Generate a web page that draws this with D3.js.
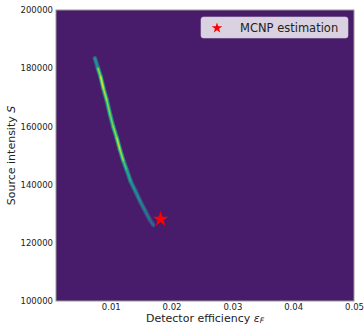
<!DOCTYPE html>
<html>
<head>
<meta charset="utf-8">
<script src="https://cdn.jsdelivr.net/npm/d3@7"></script>
<style>
  body { margin: 0; background: #fff; }
  text { font-family: "DejaVu Sans", sans-serif; fill: #222; }
</style>
</head>
<body>
<svg id="chart" width="364" height="325"></svg>
<script>
// ridge of the posterior (centre line + relative density)
const ridgeS   = [183400, 180000, 177000, 173000, 169000, 164000, 160000, 156000, 152000, 148000, 145000, 141000, 138000, 134000, 131000, 128000, 126100];
const ridgeEps = [0.0074, 0.0079, 0.00835, 0.0088, 0.00935, 0.0099, 0.0104, 0.0110, 0.01152, 0.0121, 0.01263, 0.0133, 0.0140, 0.0149, 0.01565, 0.0164, 0.0170];
const ridgeVal = [0.35, 0.7, 1.0, 0.95, 0.85, 0.8, 0.8, 0.9, 0.95, 0.8, 0.65, 0.55, 0.5, 0.45, 0.4, 0.35, 0.3];

const mcnp = { eps: 0.0182, s: 128100 };

const xTicks = [0.01, 0.02, 0.03, 0.04, 0.05];
const yTicks = [100000, 120000, 140000, 160000, 180000, 200000];

const svg = d3.select("#chart");
const margin = { top: 10, right: 10, bottom: 24, left: 56 };
const width = +svg.attr("width") - margin.left - margin.right;
const height = +svg.attr("height") - margin.top - margin.bottom;

const g = svg.append("g").attr("transform", `translate(${margin.left},${margin.top})`);

const x = d3.scaleLinear().domain([0.001, 0.05]).range([0, width]);
const y = d3.scaleLinear().domain([100000, 200000]).range([height, 0]);

// background of the density map
const bg = "#481b6b";
g.append("rect")
  .attr("width", width)
  .attr("height", height)
  .attr("fill", bg);

const defs = svg.append("defs");
defs.append("clipPath").attr("id", "clip")
  .append("rect").attr("width", width).attr("height", height);
defs.append("filter").attr("id", "soft")
  .attr("x", "-20%").attr("y", "-20%").attr("width", "140%").attr("height", "140%")
  .append("feGaussianBlur").attr("stdDeviation", 0.6);

const pts = ridgeS.map((s, i) => ({ s, eps: ridgeEps[i], v: ridgeVal[i] }));
const segs = d3.pairs(pts);

const ridge = g.append("g").attr("clip-path", "url(#clip)").attr("filter", "url(#soft)");

// layered strokes: wide and dim outside, narrow and bright in the middle
const layers = [
  { w: 4.6, k: 0.4 },
  { w: 3.2, k: 0.65 },
  { w: 2.0, k: 0.85 },
  { w: 1.0, k: 1.0 }
];
layers.forEach(l => {
  ridge.selectAll(null)
    .data(segs)
    .enter().append("line")
    .attr("x1", d => x(d[0].eps))
    .attr("y1", d => y(d[0].s))
    .attr("x2", d => x(d[1].eps))
    .attr("y2", d => y(d[1].s))
    .attr("stroke", d => d3.interpolateViridis(0.05 + (d[0].v + d[1].v) / 2 * l.k * 0.95))
    .attr("stroke-width", l.w)
    .attr("stroke-linecap", "round");
});

// frame
g.append("rect")
  .attr("width", width)
  .attr("height", height)
  .attr("fill", "none")
  .attr("stroke", "#9a9a9a")
  .attr("stroke-width", 1);

// axes
const xAxis = g.append("g")
  .attr("transform", `translate(0,${height})`)
  .call(d3.axisBottom(x).tickValues(xTicks).tickFormat(d3.format("~g")).tickSize(0).tickPadding(3));
xAxis.select(".domain").remove();
xAxis.selectAll("text").style("font-size", "8.5px").attr("fill", "#222");

const yAxis = g.append("g")
  .call(d3.axisLeft(y).tickValues(yTicks).tickFormat(d3.format("d")).tickSize(0).tickPadding(3));
yAxis.select(".domain").remove();
yAxis.selectAll("text").style("font-size", "8.5px").attr("fill", "#222");

// axis labels
const xl = svg.append("text")
  .attr("x", margin.left + width / 2)
  .attr("y", 321.5)
  .attr("text-anchor", "middle")
  .style("font-size", "11px");
xl.append("tspan").text("Detector efficiency ");
xl.append("tspan").text("ε").style("font-style", "italic");
xl.append("tspan").text("F").style("font-style", "italic").style("font-size", "7.5px").attr("dy", 1.5);

const yl = svg.append("text")
  .attr("transform", `translate(15,${margin.top + height / 2}) rotate(-90)`)
  .attr("text-anchor", "middle")
  .style("font-size", "11px");
yl.append("tspan").text("Source intensity ");
yl.append("tspan").text("S").style("font-style", "italic");

// MCNP estimate
const star = d3.symbol().type(d3.symbolStar);
g.append("path")
  .attr("d", star.size(75)())
  .attr("transform", `translate(${x(mcnp.eps)},${y(mcnp.s)})`)
  .attr("fill", "red");

// legend
const lg = svg.append("g").attr("transform", "translate(201,17)");
lg.append("rect")
  .attr("width", 147)
  .attr("height", 21)
  .attr("rx", 2.5)
  .attr("fill", "#ffffff")
  .attr("fill-opacity", 0.8)
  .attr("stroke", "#cccccc")
  .attr("stroke-opacity", 0.6);
lg.append("path")
  .attr("d", star.size(35)())
  .attr("transform", "translate(16,11)")
  .attr("fill", "red");
lg.append("text")
  .attr("x", 39)
  .attr("y", 15)
  .style("font-size", "11.5px")
  .text("MCNP estimation");
</script>
</body>
</html>
